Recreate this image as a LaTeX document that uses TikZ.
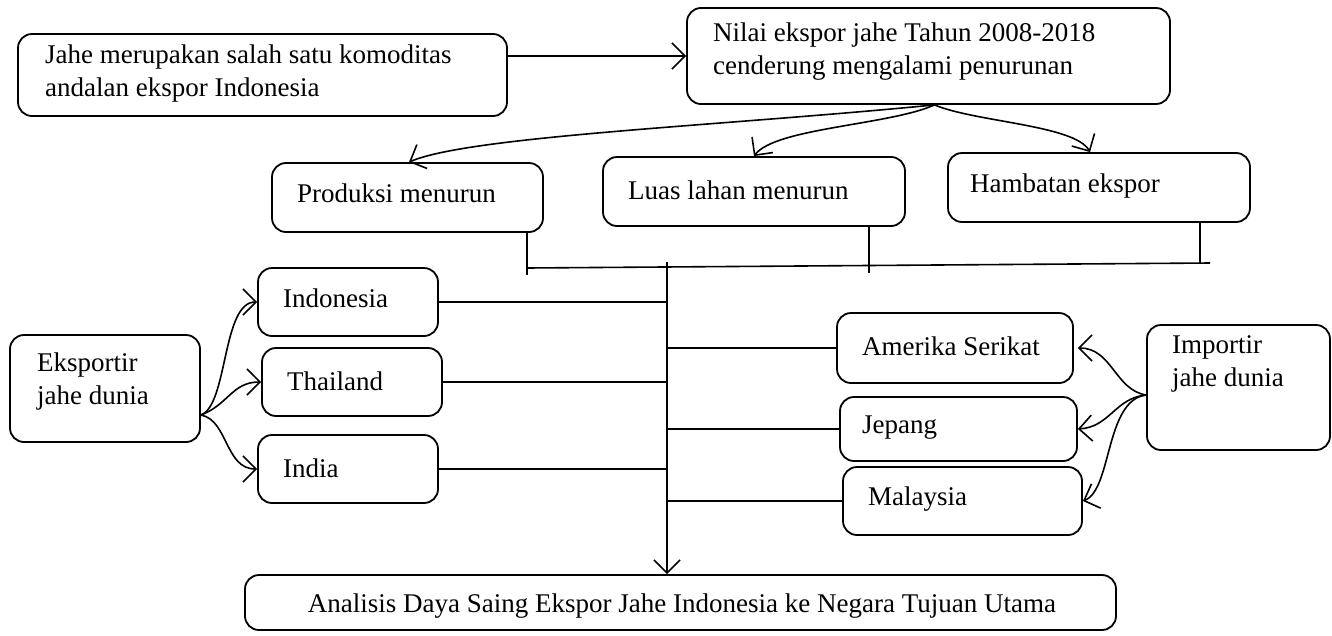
\documentclass[tikz,border=0pt]{standalone}
\usepackage{fontspec}
\setmainfont{Liberation Serif}
\usetikzlibrary{arrows.meta}
\begin{document}
\begin{tikzpicture}[x=1pt,y=-1pt,
  box/.style={draw, rounded corners=14pt, line width=1.8pt, inner sep=0pt},
  txt/.style={font=\fontsize{27}{33}\selectfont, inner sep=0pt, align=left, anchor=west},
  ln/.style={line width=1.6pt},
  arr/.style={line width=1.6pt, -{Straight Barb[length=13pt,width=26pt,line width=1.6pt]}}]
\useasboundingbox (0,0) rectangle (1332,635);
% boxes
\node[box, minimum width=489pt, minimum height=82pt] (b1) at (262.5,75) {};
\node[box, minimum width=483pt, minimum height=96pt] (b2) at (928.5,56) {};
\node[box, minimum width=271pt, minimum height=69pt] (prod) at (407.5,197.5) {};
\node[box, minimum width=302pt, minimum height=69pt] (luas) at (754,191.5) {};
\node[box, minimum width=302pt, minimum height=69pt] (hamb) at (1099,187.5) {};
\node[box, minimum width=180pt, minimum height=68pt] (indo) at (348,302) {};
\node[box, minimum width=180pt, minimum height=68pt] (thai) at (352,382) {};
\node[box, minimum width=180pt, minimum height=68pt] (india) at (348,469) {};
\node[box, minimum width=190pt, minimum height=107pt] (eks) at (105,388.5) {};
\node[box, minimum width=236pt, minimum height=70pt] (amer) at (955,348) {};
\node[box, minimum width=237pt, minimum height=64pt] (jep) at (958.5,429) {};
\node[box, minimum width=239pt, minimum height=68pt] (mal) at (962.5,501) {};
\node[box, minimum width=183pt, minimum height=125pt] (imp) at (1238.5,387.5) {};
\node[box, minimum width=871pt, minimum height=55pt] (anal) at (680.5,602.5) {};
% texts
\node[txt] (t1) at (45,74) {Jahe merupakan salah satu komoditas\\andalan ekspor Indonesia};
\node[txt] (t2) at (713,52) {Nilai ekspor jahe Tahun 2008-2018\\cenderung mengalami penurunan};
\node[txt] (t3) at (297,193) {Produksi menurun};
\node[txt] (t4) at (628,190) {Luas lahan menurun};
\node[txt] (t5) at (970,186) {Hambatan ekspor};
\node[txt] (t6) at (283,298) {Indonesia};
\node[txt] (t7) at (287,381) {Thailand};
\node[txt] (t8) at (283,468) {India};
\node[txt] (t9) at (37,381) {Eksportir\\jahe dunia};
\node[txt] (t10) at (862,346) {Amerika Serikat};
\node[txt] (t11) at (862,428) {Jepang};
\node[txt] (t12) at (868,499) {Malaysia};
\node[txt] (t13) at (1172,364) {Importir\\jahe dunia};
\node[txt, anchor=center] (t14) at (682,606) {Analisis Daya Saing Ekspor Jahe Indonesia ke Negara Tujuan Utama};
% top arrow
\draw[arr] ([yshift=19pt]b1.east) -- (b2.west);
% fan out from b2
\coordinate (o) at ([xshift=6pt]b2.south);
\draw[arr] (o) .. controls (720,126) and (470,136) .. ([xshift=1.5pt]prod.north);
\draw[arr] (o) .. controls (890,125) and (775,128) .. (luas.north);
\draw[arr] (o) .. controls (975,122) and (1075,125) .. ([xshift=-9pt]hamb.north);
% collector lines
\coordinate (j1) at (527,268);
\coordinate (j2) at (869,266);
\coordinate (j3) at (1200,264);
\coordinate (jE) at (1210,263);
\coordinate (m0) at (667,262);
\draw[ln] (prod.south -| j1) -- ([yshift=-7pt]j1);
\draw[ln] (luas.south -| j2) -- ([yshift=-7pt]j2);
\draw[ln] (hamb.south -| j3) -- (j3);
\draw[ln] (j1) -- (jE);
\draw[arr] (m0) -- (anal.north -| m0);
% branches
\draw[ln] (indo.east) -- (indo.east -| m0);
\draw[ln] (thai.east) -- (thai.east -| m0);
\draw[ln] (india.east) -- (india.east -| m0);
\draw[ln] (amer.west) -- (amer.west -| m0);
\draw[ln] (jep.west) -- (jep.west -| m0);
\draw[ln] (mal.west) -- (mal.west -| m0);
% exporters
\coordinate (eo) at ([yshift=-26.5pt]eks.east);
\draw[arr] (eo) .. controls (228,405) and (222,302) .. (indo.west);
\draw[arr] (eo) .. controls (228,405) and (232,382) .. (thai.west);
\draw[arr] (eo) .. controls (228,420) and (225,469) .. (india.west);
% importers
\coordinate (io) at ([yshift=-7.5pt]imp.west);
\draw[arr] (io) .. controls (1115,390) and (1112,348) .. ([xshift=4pt]amer.east);
\draw[arr] (io) .. controls (1115,398) and (1110,427) .. (jep.east);
\draw[arr] (io) .. controls (1105,400) and (1112,490) .. (mal.east);
\end{tikzpicture}
\end{document}
